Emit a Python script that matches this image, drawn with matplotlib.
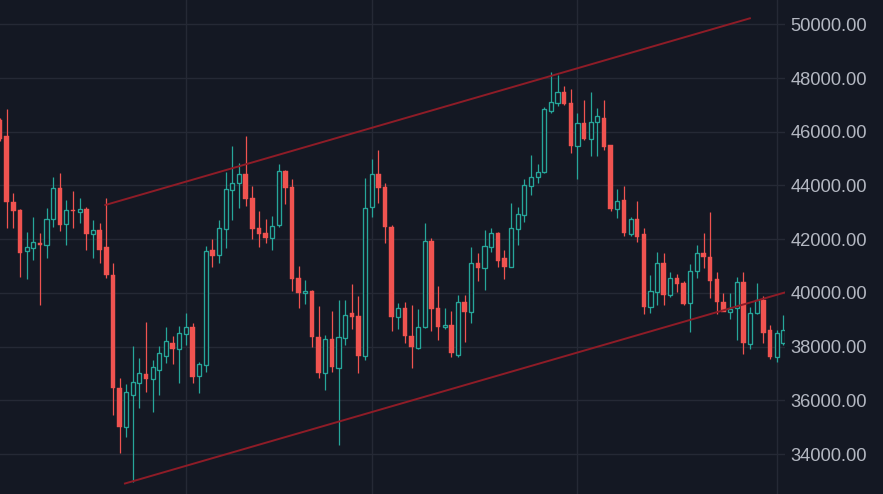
import numpy as np
import matplotlib
matplotlib.use("Agg")
import matplotlib.pyplot as plt
import pandas as pd

plt.rcParams["font.family"] = ["Liberation Sans", "DejaVu Sans"]

# daily candles, 2022-01-04 .. 2022-05-02
dates = pd.date_range("2022-01-04", "2022-05-02", freq="D")

opens = [46437, 45841, 43395, 43087, 41549, 41683, 41821, 41783, 42740, 43917,
         42554, 43087, 43013, 43113, 42193, 42342, 41720, 40666, 36471, 35019,
         36199, 36657, 36981, 36783, 37144, 37651, 38146, 37900, 38470, 38742,
         36906, 37316, 41597, 41411, 42368, 43831, 44081, 44427, 43522, 42405,
         42241, 42032, 42528, 44549, 43932, 40544, 39985, 40082, 38369, 37007,
         38272, 37193, 38310, 39263, 39140, 37650, 43209, 44427, 43932, 42465,
         39114, 39427, 38396, 37937, 38719, 41943, 39427, 38719, 38805, 37688,
         39672, 39300, 41125, 40916, 41720, 42241, 41288, 40953, 42380, 42900,
         43980, 44304, 44490, 46784, 47081, 47468, 47081, 45469, 46314, 45719,
         46374, 46500, 45495, 43113, 43459, 42193, 42740, 42193, 39486, 40045,
         41125, 39922, 40543, 40362, 39613, 40815, 41474, 41348, 40505, 39672,
         39294, 39427, 40417, 38098, 39240, 39736, 38619, 37602, 38135]
highs = [46500, 46835, 43730, 43113, 42279, 42826, 42219, 43172, 44326, 44453,
         43459, 43794, 43522, 43209, 42714, 42591, 43522, 41125, 36820, 36609,
         38039, 37588, 38928, 37502, 38035, 38741, 38395, 38779, 39263, 38868,
         37439, 41757, 41996, 42714, 44512, 45480, 44847, 45842, 43980, 43049,
         42751, 42874, 44799, 44576, 44229, 41013, 40480, 40108, 39512, 38433,
         39326, 39736, 39736, 40325, 39896, 44267, 44974, 45320, 44080, 42528,
         39617, 39677, 39554, 39389, 42591, 42033, 40257, 39427, 39338, 39922,
         39922, 41698, 41497, 42342, 42405, 42279, 41597, 43336, 43209, 44229,
         45134, 44799, 46932, 48235, 48112, 47703, 47580, 46709, 47182, 47468,
         46895, 47182, 45506, 43857, 43980, 42815, 43433, 42405, 40667, 41534,
         41474, 40794, 40704, 40459, 41076, 41783, 42241, 43023, 40790, 39985,
         39985, 40603, 40790, 39486, 40380, 39885, 38805, 38619, 39177]
lows = [45650, 42427, 42427, 40603, 40506, 41226, 39550, 41311, 42465, 42305,
        41783, 42427, 42591, 41597, 41311, 41125, 40544, 35454, 34028, 34647,
        32971, 35704, 36299, 35555, 36199, 37378, 37352, 36657, 38060, 36657,
        36262, 37066, 40953, 41125, 41660, 42714, 43172, 43236, 41996, 41720,
        41869, 41597, 42465, 43303, 40082, 39449, 39576, 37997, 36843, 36385,
        37066, 34338, 38060, 38649, 37007, 37502, 42837, 43358, 41847, 38593,
        38649, 38128, 37193, 37900, 38682, 38593, 38247, 38649, 37602, 37602,
        38184, 38891, 40454, 40108, 41534, 40975, 40506, 40953, 41783, 42651,
        43645, 44103, 44453, 46686, 46958, 46996, 45220, 44229, 45694, 45108,
        45097, 45320, 43050, 42777, 42118, 42118, 41906, 39214, 39263, 39550,
        39550, 39841, 40045, 39550, 38555, 40544, 40916, 39824, 39214, 39338,
        39017, 38247, 37725, 37900, 39214, 38146, 37550, 37438, 38060]
closes = [45719, 43395, 43060, 41497, 41720, 41884, 41802, 42751, 43917, 42528,
          43087, 43060, 43113, 42193, 42342, 41597, 40666, 36448, 35019, 36299,
          36694, 37007, 36795, 37230, 37751, 38221, 37900, 38495, 38742, 36880,
          37353, 41571, 41374, 42405, 43857, 44081, 44427, 43485, 42368, 42193,
          42032, 42502, 44549, 43894, 40506, 39985, 40071, 38347, 37007, 38272,
          37230, 38369, 39172, 39092, 37650, 43161, 44427, 43894, 42442, 39114,
          39427, 38396, 37997, 38719, 41943, 39389, 38719, 38805, 37751, 39672,
          39300, 41125, 40916, 41757, 42219, 41199, 40975, 42405, 42938, 44017,
          44326, 44490, 46836, 47119, 47468, 47021, 45469, 46314, 45719, 46374,
          46586, 45421, 43113, 43433, 42242, 42740, 42070, 39464, 40071, 41102,
          39922, 40543, 40331, 39587, 40815, 41474, 41325, 40451, 39672, 39294,
          39391, 40417, 38128, 39245, 39736, 38519, 37602, 38519, 38619]

# channel drawn on the chart: (date, price) pairs
upper_dates = ["2022-01-19 20:40", "2022-04-26 23:30"]
upper_prices = [43273, 50223]
lower_dates = ["2022-01-22 19:40", "2022-05-03 06:30"]
lower_prices = [32904, 40089]

price_ticks = np.arange(34000, 50001, 2000)

bg = "#141823"
grid_c = "#252935"
up_c = "#26a69a"
down_c = "#f05350"
chan_c = "#8e1c27"

df = pd.DataFrame({"open": opens, "high": highs, "low": lows, "close": closes}, index=dates)
x = np.arange(len(df))
t0 = dates[0]


def to_x(d):
    return (pd.Timestamp(d) - t0) / pd.Timedelta(days=1)


fig = plt.figure(figsize=(8.83, 4.94), dpi=100, facecolor=bg)
ax = fig.add_axes([0, 0, 785 / 883, 1])
ax.set_facecolor(bg)

up = df["close"] >= df["open"]
body_lo = np.minimum(df["open"], df["close"])
body_h = np.maximum(np.abs(df["close"] - df["open"]), 40)

ax.vlines(x[up], df["low"][up], df["high"][up], color=up_c, lw=0.9, zorder=2)
ax.vlines(x[~up], df["low"][~up], df["high"][~up], color=down_c, lw=0.9, zorder=2)
ax.bar(x[up], body_h[up], bottom=body_lo[up], width=0.62, facecolor=bg,
       edgecolor=up_c, linewidth=0.95, zorder=3)
ax.bar(x[~up], body_h[~up], bottom=body_lo[~up], width=0.68, facecolor=down_c,
       edgecolor=down_c, linewidth=0.3, zorder=3)

ax.plot([to_x(d) for d in upper_dates], upper_prices, color=chan_c, lw=1.4, zorder=4)
ax.plot([to_x(d) for d in lower_dates], lower_prices, color=chan_c, lw=1.4, zorder=4)

# month gridlines
month_starts = [i for i, d in enumerate(dates) if d.day == 1]
for m in month_starts:
    ax.axvline(m, color=grid_c, lw=1, zorder=0)
for p in price_ticks:
    ax.axhline(p, color=grid_c, lw=1, zorder=0)

ax.set_xlim(-0.01, 118.27)
ax.set_ylim(32513, 50905)
ax.set_xticks([])
ax.yaxis.tick_right()
ax.set_yticks(price_ticks, [f"{p:.2f}" for p in price_ticks])
ax.tick_params(axis="y", length=0, pad=4, labelsize=13.2, labelcolor="#b4b8c2")
for s in ax.spines.values():
    s.set_visible(False)

fig.savefig("out.png", dpi=100, facecolor=bg)
